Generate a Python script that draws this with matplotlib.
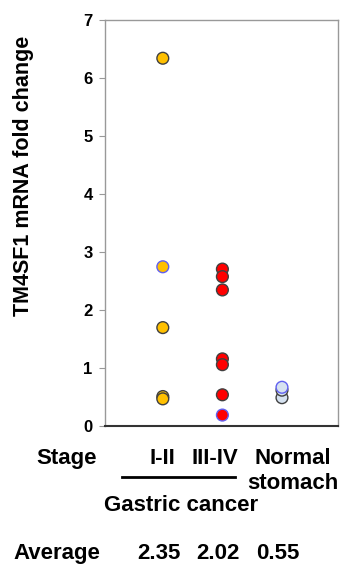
import matplotlib
matplotlib.use("Agg")
import matplotlib.pyplot as plt
from matplotlib.transforms import blended_transform_factory

# ---- data ----
groups = ["I-II", "III-IV", "Normal", "stomach"]
stage_12 = [6.34, 2.74, 1.69, 0.50, 0.46]
stage_34 = [2.70, 2.57, 2.34, 1.15, 1.05, 0.53, 0.18]
normal = [0.48, 0.61, 0.66]
averages = ["2.35", "2.02", "0.55"]
yticks = [0, 1, 2, 3, 4, 5, 6, 7]
# indices of points outlined in blue
blue_12 = [1]
blue_34 = [6]
blue_n = [2]

plt.rcParams['font.family'] = ['Liberation Sans', 'DejaVu Sans']

W, H = 340, 564
fig = plt.figure(figsize=(W / 100, H / 100), dpi=100)
ax = fig.add_axes([105 / W, 1 - 425.5 / H, (338 - 105) / W, (425.5 - 20) / H])

fills = ["#FFC000", "#FF0000", "#D6E2F0"]
series = [stage_12, stage_34, normal]
blues = [blue_12, blue_34, blue_n]
for i, (vals, fc, bl) in enumerate(zip(series, fills, blues)):
    xs = [i + 1] * len(vals)
    ecs = ["#6060F0" if j in bl else "#404040" for j in range(len(vals))]
    ax.scatter(xs, vals, s=72, c=fc, edgecolors=ecs, linewidths=1.0, zorder=3)

ax.set_xlim(0.03, 3.94)
ax.set_ylim(0, 7)
ax.set_yticks(yticks)
ax.set_yticklabels([str(t) for t in yticks], fontsize=12, fontweight='bold')
ax.set_xticks([])
ax.tick_params(axis='y', direction='out', length=4, width=0.8, color='#999999', pad=5)
for side in ['left', 'top', 'right']:
    ax.spines[side].set_color('#999999')
    ax.spines[side].set_linewidth(1.0)
ax.spines['bottom'].set_color('#333333')
ax.spines['bottom'].set_linewidth(1.5)

fig.text(24 / W, 1 - 176 / H, "TM4SF1 mRNA fold change", rotation=90,
         ha='center', va='center', fontsize=15.5, fontweight='bold')

tr = blended_transform_factory(ax.transData, fig.transFigure)
fs = 16
kw = dict(transform=tr, va='baseline', ha='center', fontsize=fs, fontweight='bold', clip_on=False)
fig.text(67 / W, 1 - 464 / H, "Stage", ha='center', va='baseline', fontsize=fs, fontweight='bold')
ax.text(1.0, 1 - 464 / H, groups[0], **kw)
ax.text(1.87, 1 - 464 / H, groups[1], **kw)
ax.text(3.19, 1 - 464 / H, groups[2], **kw)
ax.text(3.18, 1 - 489 / H, groups[3], **kw)
ax.plot([0.31, 2.21], [1 - 477 / H] * 2, transform=tr, color='black', lw=2, clip_on=False)
ax.text(1.30, 1 - 511 / H, "Gastric cancer", **kw)

fig.text(57 / W, 1 - 559 / H, "Average", ha='center', va='baseline', fontsize=fs, fontweight='bold')
for i, a in enumerate(averages):
    ax.text(i + 0.93, 1 - 559 / H, a, **kw)

fig.savefig("out.png", dpi=100)
